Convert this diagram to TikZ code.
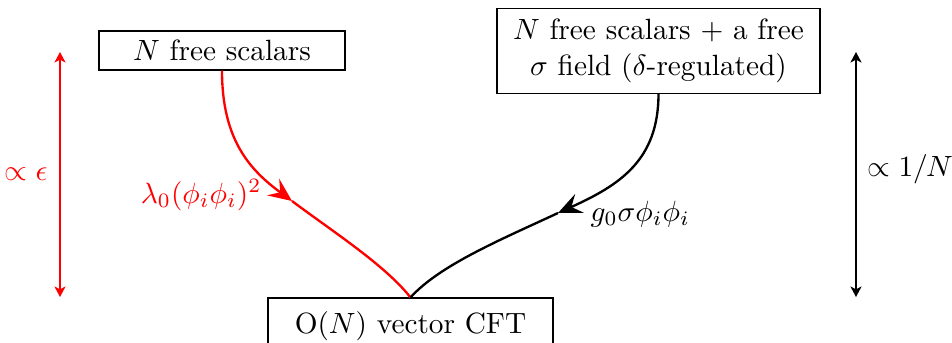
\documentclass[tikz,border=0pt]{standalone}
\usetikzlibrary{arrows.meta}
\def\upx{0.3413pt}
\begin{document}
\begin{tikzpicture}[x=0.3413pt,y=-0.3413pt,
  box/.style={draw, line width=0.4pt, inner sep=0pt, align=center},
  flow/.style={thick},
  midtip/.style={-{Stealth[length=8pt,width=7pt,inset=3pt]}},
  span/.style={thick,{Stealth[length=3.6pt,width=3.8pt,inset=1pt]}-{Stealth[length=3.6pt,width=3.8pt,inset=1pt]}},
  lbl/.style={inner sep=0pt}]
\clip (0,0) rectangle (952,342);
\node[box, minimum width=246*\upx, minimum height=39*\upx] (A) at (222,50.5) {$N$ free scalars};
\node[box, minimum width=323*\upx, minimum height=85*\upx] (B) at (658.5,50.8) {$N$ free scalars $+$ a free\\ $\sigma$ field ($\delta$-regulated)};
\node[box, minimum width=285*\upx, minimum height=55.4*\upx] (C) at (410.5,325.7) {O$(N)$ vector CFT};
\coordinate (r) at (292,201);
\coordinate (k) at (558,213);
\draw[flow, red, midtip] (A.south) .. controls (222,140) and (250,170) .. (r);
\draw[flow, red] (r) .. controls (332,231) and (385,265) .. (C.north);
\draw[flow, midtip] (B.south) .. controls (658.5,160) and (620,185) .. (k);
\draw[flow] (k) .. controls (500,240) and (440,265) .. (C.north);
\node[lbl, red, anchor=base east] (lr) at (262,203) {$\lambda_0(\phi_i\phi_i)^2$};
\node[lbl, anchor=base west] (lk) at (590,221) {$g_0\sigma\phi_i\phi_i$};
\coordinate (rt) at (60,52);
\coordinate (rb) at (60,297);
\draw[span, red] (rt) -- (rb);
\node[lbl, red, anchor=base east] (le) at (48,180) {$\propto\epsilon$};
\coordinate (kt) at (856,52);
\coordinate (kb) at (856,297);
\draw[span] (kt) -- (kb);
\node[lbl, anchor=base west] (ln) at (867,176) {$\propto 1/N$};
\end{tikzpicture}
\end{document}
